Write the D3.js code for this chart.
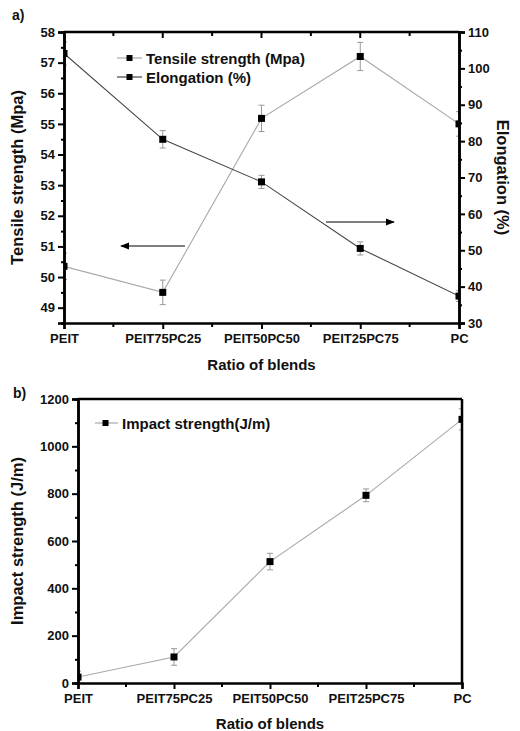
<!DOCTYPE html>
<html><head><meta charset="utf-8">
<script src="https://cdn.jsdelivr.net/npm/d3@7"></script>
<style>body{margin:0;background:#fff;} text{font-family:"Liberation Sans",Arial,sans-serif;font-weight:bold;fill:#111;}</style>
</head><body><svg id="c" width="520" height="731"></svg>
<script>
const categories = ["PEIT","PEIT75PC25","PEIT50PC50","PEIT25PC75","PC"];
const tensile = [50.35, 49.5, 55.18, 57.2, 55.0];
const tensileErr = [0.43, 0.4, 0.43, 0.46, 0.4];
const elongation = [104.1, 80.5, 68.8, 50.5, 37.4];
const elongationErr = [3.2, 2.4, 1.8, 1.8, 1.5];
const impact = [25, 110, 513, 793, 1114];
const impactErr = [25, 35, 35, 27, 45];
const leftTicksA = [49,50,51,52,53,54,55,56,57,58];
const rightTicksA = [30,40,50,60,70,80,90,100,110];
const leftTicksB = [0,200,400,600,800,1000,1200];

const svg = d3.select("#c");
const LIGHT = "#a8a8a8", DARK = "#444";
const TICKFONT = "13px";

function drawSeries(g, x, y, vals, errs, color, clipId) {
  const gg = g.append("g").attr("clip-path", `url(#${clipId})`);
  const line = d3.line().x((d,i)=>x(categories[i])).y(d=>y(d));
  gg.append("path").datum(vals).attr("d", line).attr("fill","none").attr("stroke",color).attr("stroke-width",1.1);
  vals.forEach((v,i)=>{
    const cx = x(categories[i]);
    const y1 = y(v+errs[i]), y0 = y(v-errs[i]);
    gg.append("line").attr("x1",cx).attr("x2",cx).attr("y1",y1).attr("y2",y0).attr("stroke","#999").attr("stroke-width",1);
    [y1,y0].forEach(yy=>gg.append("line").attr("x1",cx-3).attr("x2",cx+3).attr("y1",yy).attr("y2",yy).attr("stroke","#999").attr("stroke-width",1));
  });
  gg.selectAll(null).data(vals).enter().append("rect")
    .attr("x",(d,i)=>x(categories[i])-3.5).attr("y",d=>y(d)-3.5).attr("width",7).attr("height",7).attr("fill","#000");
}

function styleAxes(g){
  g.selectAll(".domain").attr("stroke","#000").attr("stroke-width",2.5);
  g.selectAll(".tick line").attr("stroke","#000").attr("stroke-width",2);
  g.selectAll(".tick text").style("font-size",TICKFONT).style("font-family","Liberation Sans, Arial, sans-serif").style("font-weight","bold").attr("fill","#111");
}

// ---------- Chart a ----------
{
  const L=64, R=459, T=32, B=323;
  const x = d3.scalePoint().domain(categories).range([L,R]);
  const yL = d3.scaleLinear().domain([48.5,58]).range([B,T]);
  const yR = d3.scaleLinear().domain([30,110]).range([B,T]);
  const g = svg.append("g");
  g.append("defs").append("clipPath").attr("id","clipA").append("rect").attr("x",L).attr("y",T).attr("width",R-L).attr("height",B-T);

  drawSeries(g, x, yL, tensile, tensileErr, LIGHT, "clipA");
  drawSeries(g, x, yR, elongation, elongationErr, DARK, "clipA");

  g.append("g").attr("transform",`translate(${L},0)`).call(d3.axisLeft(yL).tickValues(leftTicksA).tickSize(6).tickPadding(3));
  g.append("g").attr("transform",`translate(${L},0)`).call(d3.axisLeft(yL).tickValues(d3.range(48.5,58,1)).tickSize(3).tickFormat(""));
  g.append("g").attr("transform",`translate(${R},0)`).call(d3.axisRight(yR).tickValues(rightTicksA).tickSize(6).tickPadding(3));
  g.append("g").attr("transform",`translate(${R},0)`).call(d3.axisRight(yR).tickValues(d3.range(35,110,10)).tickSize(3).tickFormat(""));
  g.append("g").attr("transform",`translate(0,${B})`).call(d3.axisBottom(x).tickSize(6).tickPadding(5));
  const mids = categories.slice(1).map((c,i)=>(x(c)+x(categories[i]))/2);
  g.append("g").selectAll(null).data(mids).enter().append("line").attr("x1",d=>d).attr("x2",d=>d).attr("y1",B).attr("y2",B+4).attr("stroke","#000").attr("stroke-width",2);
  g.append("g").selectAll(null).data(categories.map(c=>x(c))).enter().append("line").attr("x1",d=>d).attr("x2",d=>d).attr("y1",T).attr("y2",T+6).attr("stroke","#000").attr("stroke-width",2);
  g.append("g").selectAll(null).data(mids).enter().append("line").attr("x1",d=>d).attr("x2",d=>d).attr("y1",T).attr("y2",T+4).attr("stroke","#000").attr("stroke-width",2);
  g.append("line").attr("x1",L).attr("x2",R).attr("y1",T).attr("y2",T).attr("stroke","#000").attr("stroke-width",2.5);
  styleAxes(g);

  g.append("text").attr("x",12).attr("y",20).style("font-size","14px").text("a)");
  g.append("text").attr("transform",`translate(23,${(T+B)/2}) rotate(-90)`).attr("text-anchor","middle").style("font-size","16.5px").text("Tensile strength (Mpa)");
  g.append("text").attr("transform",`translate(497,${(T+B)/2}) rotate(90)`).attr("text-anchor","middle").style("font-size","16.5px").text("Elongation (%)");
  g.append("text").attr("x",(L+R)/2).attr("y",370).attr("text-anchor","middle").style("font-size","15px").text("Ratio of blends");

  const leg = [["Tensile strength (Mpa)",LIGHT],["Elongation (%)",DARK]];
  leg.forEach((d,i)=>{
    const yy = 58 + i*19;
    g.append("line").attr("x1",117).attr("x2",142).attr("y1",yy).attr("y2",yy).attr("stroke",d[1]).attr("stroke-width",1.2);
    g.append("rect").attr("x",126.5).attr("y",yy-3).attr("width",6).attr("height",6).attr("fill","#000");
    g.append("text").attr("x",146).attr("y",yy+5.5).style("font-size","15px").text(d[0]);
  });

  const defs = g.append("defs");
  defs.append("marker").attr("id","ah").attr("viewBox","0 0 10 10").attr("refX",9).attr("refY",5)
    .attr("markerWidth",9).attr("markerHeight",9).attr("markerUnits","userSpaceOnUse").attr("orient","auto")
    .append("path").attr("d","M0,1 L10,5 L0,9 Z").attr("fill","#000");
  g.append("line").attr("x1",185).attr("x2",121).attr("y1",246).attr("y2",246).attr("stroke","#000").attr("stroke-width",1).attr("marker-end","url(#ah)");
  g.append("line").attr("x1",326).attr("x2",394).attr("y1",222).attr("y2",222).attr("stroke","#000").attr("stroke-width",1).attr("marker-end","url(#ah)");
}

// ---------- Chart b ----------
{
  const L=78, R=462, T=399, B=683;
  const x = d3.scalePoint().domain(categories).range([L,R]);
  const y = d3.scaleLinear().domain([0,1200]).range([B,T]);
  const g = svg.append("g");
  g.append("defs").append("clipPath").attr("id","clipB").append("rect").attr("x",L).attr("y",T).attr("width",R-L).attr("height",B-T);
  drawSeries(g, x, y, impact, impactErr, LIGHT, "clipB");

  g.append("g").attr("transform",`translate(${L},0)`).call(d3.axisLeft(y).tickValues(leftTicksB).tickFormat(d3.format("d")).tickSize(6).tickPadding(3));
  g.append("g").attr("transform",`translate(${L},0)`).call(d3.axisLeft(y).tickValues(d3.range(100,1200,200)).tickSize(3).tickFormat(""));
  g.append("g").attr("transform",`translate(0,${B})`).call(d3.axisBottom(x).tickSize(6).tickPadding(5));
  const mids = categories.slice(1).map((c,i)=>(x(c)+x(categories[i]))/2);
  g.append("g").selectAll(null).data(mids).enter().append("line").attr("x1",d=>d).attr("x2",d=>d).attr("y1",B).attr("y2",B+4).attr("stroke","#000").attr("stroke-width",2);
  g.append("line").attr("x1",L).attr("x2",R).attr("y1",T).attr("y2",T).attr("stroke","#000").attr("stroke-width",2.5);
  g.append("line").attr("x1",R).attr("x2",R).attr("y1",T).attr("y2",B).attr("stroke","#000").attr("stroke-width",2.5);
  styleAxes(g);

  g.append("text").attr("x",13).attr("y",398).style("font-size","14px").text("b)");
  g.append("text").attr("transform",`translate(23,${(T+B)/2}) rotate(-90)`).attr("text-anchor","middle").style("font-size","16.5px").text("Impact strength (J/m)");
  g.append("text").attr("x",(L+R)/2).attr("y",729).attr("text-anchor","middle").style("font-size","15px").text("Ratio of blends");

  const yy = 423;
  g.append("line").attr("x1",95).attr("x2",118).attr("y1",yy).attr("y2",yy).attr("stroke",LIGHT).attr("stroke-width",1.2);
  g.append("rect").attr("x",102.5).attr("y",yy-3).attr("width",6).attr("height",6).attr("fill","#000");
  g.append("text").attr("x",122).attr("y",yy+5.5).style("font-size","15px").text("Impact strength(J/m)");
}
</script></body></html>
